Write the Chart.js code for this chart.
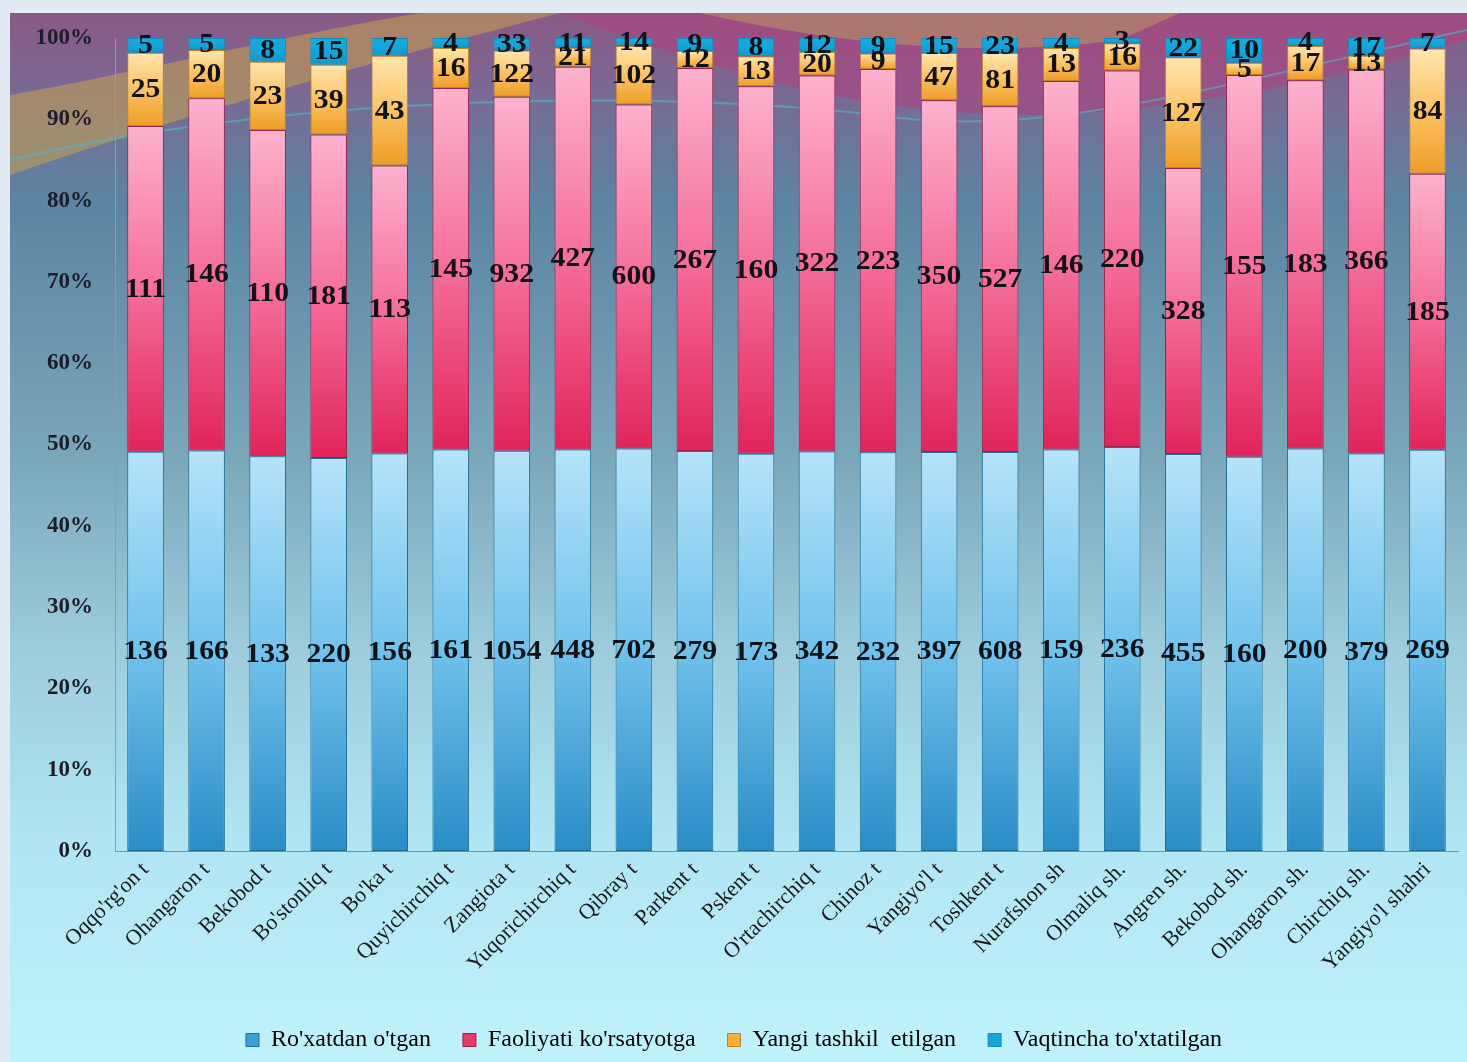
<!DOCTYPE html>
<html>
<head>
<meta charset="utf-8">
<title>Faoliyat ko'rsatkichlari</title>
<script src="https://cdn.jsdelivr.net/npm/chart.js@4/dist/chart.umd.min.js"></script>
<style>
    html, body { margin: 0; padding: 0; background: #e4edf5; overflow: hidden; }
    #chart { display: block; }
</style>
</head>
<body>
<canvas id="chart" width="1467" height="1062"></canvas>
<script>
// ----------------------------- Data -----------------------------------------
const categories = [
    "Oqqo'rg'on t", "Ohangaron t", "Bekobod t", "Bo'stonliq t", "Bo'ka t",
    "Quyichirchiq t", "Zangiota t", "Yuqorichirchiq t", "Qibray t", "Parkent t",
    "Pskent t", "O'rtachirchiq t", "Chinoz t", "Yangiyo'l t", "Toshkent t",
    "Nurafshon sh", "Olmaliq sh.", "Angren sh.", "Bekobod sh.", "Ohangaron sh.",
    "Chirchiq sh.", "Yangiyo'l shahri"
];
const seriesNames = ["Ro'xatdan o'tgan", "Faoliyati ko'rsatyotga", "Yangi tashkil  etilgan", "Vaqtincha to'xtatilgan"];

const registered = [136, 166, 133, 220, 156, 161, 1054, 448, 702, 279, 173, 342, 232, 397, 608, 159, 236, 455, 160, 200, 379, 269];
const active     = [111, 146, 110, 181, 113, 145, 932, 427, 600, 267, 160, 322, 223, 350, 527, 146, 220, 328, 155, 183, 366, 185];
const newlyOpened = [25, 20, 23, 39, 43, 16, 122, 21, 102, 12, 13, 20, 9, 47, 81, 13, 16, 127, 5, 17, 13, 84];
const suspended  = [5, 5, 8, 15, 7, 4, 33, 11, 14, 9, 8, 12, 9, 15, 23, 4, 3, 22, 10, 4, 17, 7];

const yTickStep = 10;

// ----------------------------- Styles ---------------------------------------
const SERIF = '"Liberation Serif", "Times New Roman", serif';
const seriesStyles = [
    { stops: ["#b6e3fa", "#70c2ec", "#2a8cc6"], border: "#1d6f96", legend: "#3a9fd6" },
    { stops: ["#fdb2cd", "#f56e9a", "#e0245a"], border: "#9c2150", legend: "#e8386a" },
    { stops: ["#ffe6ae", "#fbc264", "#ee9d26"], border: "#c38322", legend: "#f6b040" },
    { stops: ["#16abdd", "#14a6da", "#1098cc"], border: "#1090c0", legend: "#14a6da" },
];

// ----------------------------- Helpers --------------------------------------
const seriesRaw = [registered, active, newlyOpened, suspended];
const totals = categories.map((_, i) => seriesRaw.reduce((s, arr) => s + arr[i], 0));
const seriesPct = seriesRaw.map(arr => arr.map((v, i) => v / totals[i] * 100));

function segmentGradient(k) {
    return (context) => {
        const chart = context.chart;
        const style = seriesStyles[k];
        if (context.type !== "data" || !chart.chartArea || !chart.scales.y) return style.legend;
        const i = context.dataIndex;
        let base = 0;
        for (let j = 0; j < k; j++) base += seriesPct[j][i];
        const top = base + seriesPct[k][i];
        const yScale = chart.scales.y;
        const y0 = yScale.getPixelForValue(top);
        const y1 = yScale.getPixelForValue(base);
        if (!isFinite(y0) || !isFinite(y1) || y0 === y1) return style.legend;
        const g = chart.ctx.createLinearGradient(0, y0, 0, y1);
        g.addColorStop(0, style.stops[0]);
        g.addColorStop(0.5, style.stops[1]);
        g.addColorStop(1, style.stops[2]);
        return g;
    };
}

// ----------------------------- Plugins --------------------------------------
const backdropPlugin = {
    id: "backdrop",
    beforeDraw(chart) {
        const { ctx, width, height } = chart;
        ctx.save();
        ctx.fillStyle = "#e2ebf4";
        ctx.fillRect(0, 0, width, height);

        const x0 = 10, y0 = 13;
        const g = ctx.createLinearGradient(0, y0, 0, height);
        g.addColorStop(0, "#8a5a85");
        g.addColorStop(0.07, "#7a6892");
        g.addColorStop(0.18, "#5c84a2");
        g.addColorStop(0.42, "#7aa6ba");
        g.addColorStop(0.6, "#9ccbdb");
        g.addColorStop(0.8, "#b3e6f4");
        g.addColorStop(1, "#bff2fb");
        ctx.fillStyle = g;
        ctx.fillRect(x0, y0, width - x0, height - y0);

        // decorative swooshes at the top of the slide
        ctx.globalAlpha = 0.55;
        ctx.fillStyle = "#c9a24e";
        ctx.beginPath();
        ctx.moveTo(x0, 95);
        ctx.bezierCurveTo(150, 70, 260, 40, 420, 13);
        ctx.lineTo(560, 13);
        ctx.bezierCurveTo(380, 60, 200, 110, x0, 175);
        ctx.closePath();
        ctx.fill();

        ctx.fillStyle = "#b0407e";
        ctx.beginPath();
        ctx.moveTo(560, 13);
        ctx.bezierCurveTo(760, 90, 940, 130, 1120, 110);
        ctx.bezierCurveTo(1300, 90, 1400, 60, width, 40);
        ctx.lineTo(width, 13);
        ctx.closePath();
        ctx.fill();

        ctx.fillStyle = "#b99a62";
        ctx.beginPath();
        ctx.moveTo(700, 13);
        ctx.bezierCurveTo(820, 40, 960, 60, 1120, 40);
        ctx.lineTo(1180, 13);
        ctx.closePath();
        ctx.fill();

        ctx.globalAlpha = 0.6;
        ctx.strokeStyle = "#4fb8c8";
        ctx.lineWidth = 2;
        ctx.beginPath();
        ctx.moveTo(x0, 160);
        ctx.bezierCurveTo(300, 90, 700, 90, 900, 118);
        ctx.bezierCurveTo(1050, 135, 1200, 90, width, 30);
        ctx.stroke();
        ctx.restore();
    }
};

// value labels, slightly widened like the source slide
const valueLabelPlugin = {
    id: "valueLabels",
    afterDatasetsDraw(chart) {
        const { ctx } = chart;
        ctx.save();
        ctx.font = `bold 27px ${SERIF}`;
        ctx.fillStyle = "#111118";
        ctx.textAlign = "center";
        ctx.textBaseline = "middle";
        seriesRaw.forEach((vals, k) => {
            const meta = chart.getDatasetMeta(k);
            meta.data.forEach((bar, i) => {
                const y = (bar.y + bar.base) / 2;
                ctx.save();
                ctx.translate(bar.x, y + 1);
                ctx.scale(1.1, 1);
                ctx.fillText(String(vals[i]), 0, 0);
                ctx.restore();
            });
        });
        ctx.restore();
    }
};

// ----------------------------- Chart ----------------------------------------
const chart = new Chart(document.getElementById("chart"), {
    type: "bar",
    data: {
        labels: categories,
        datasets: seriesNames.map((name, k) => ({
            label: name,
            data: seriesPct[k],
            backgroundColor: segmentGradient(k),
            borderColor: seriesStyles[k].border,
            borderWidth: 1,
            borderSkipped: false,
            barPercentage: 0.6,
            categoryPercentage: 1,
        })),
    },
    options: {
        responsive: false,
        animation: false,
        devicePixelRatio: 1,
        layout: { padding: { left: 10, right: 9, top: 38, bottom: 0 } },
        scales: {
            x: {
                stacked: true,
                grid: { display: false, drawTicks: false },
                border: { display: true, color: "#7e8e9c", width: 1 },
                ticks: {
                    autoSkip: false,
                    minRotation: 45,
                    maxRotation: 45,
                    padding: 6,
                    color: "#1a1a1a",
                    font: { family: SERIF, size: 22 },
                },
                afterFit: (scale) => { scale.height = 145; },
            },
            y: {
                stacked: true,
                min: 0,
                max: 100,
                grid: { display: false, drawTicks: false },
                border: { display: true, color: "#8d9cab", width: 1 },
                ticks: {
                    stepSize: yTickStep,
                    padding: 22,
                    color: "#1c1c2a",
                    font: { family: SERIF, size: 23, weight: "bold" },
                    callback: (v) => v + "%",
                },
                afterFit: (scale) => { scale.width = 105; },
            },
        },
        plugins: {
            tooltip: { enabled: false },
            legend: {
                position: "bottom",
                labels: {
                    color: "#1a1a1a",
                    font: { family: SERIF, size: 24 },
                    boxWidth: 13,
                    boxHeight: 13,
                    padding: 32,
                    generateLabels: () => seriesNames.map((name, k) => ({
                        text: name,
                        fillStyle: seriesStyles[k].legend,
                        strokeStyle: seriesStyles[k].border,
                        lineWidth: 1,
                        hidden: false,
                        datasetIndex: k,
                    })),
                },
            },
        },
    },
    plugins: [backdropPlugin, valueLabelPlugin],
});
</script>
</body>
</html>
